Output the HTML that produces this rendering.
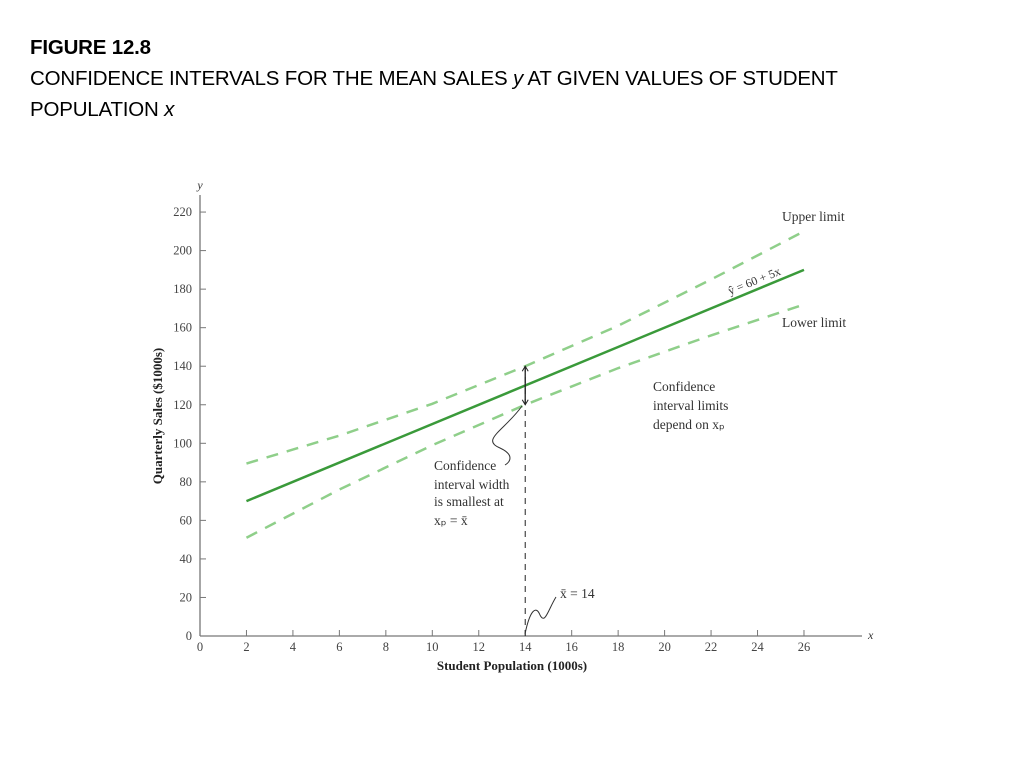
<!DOCTYPE html>
<html><head><meta charset="utf-8"><style>
body{margin:0;width:1024px;height:768px;background:#fff;overflow:hidden;font-family:"Liberation Sans",sans-serif}
#t{position:absolute;left:30px;top:32px;font-size:20.5px;line-height:31px;color:#000;letter-spacing:-0.2px}
svg{position:absolute;left:0;top:0}
</style></head><body>
<div id="t"><b>FIGURE 12.8</b><br>CONFIDENCE INTERVALS FOR THE MEAN SALES <i>y</i> AT GIVEN VALUES OF STUDENT<br>POPULATION <i>x</i></div>
<svg id="c" width="1024" height="768" font-family="Liberation Serif, serif"></svg>
<script>
const xTicks=[0,2,4,6,8,10,12,14,16,18,20,22,24,26];
const yTicks=[0,20,40,60,80,100,120,140,160,180,200,220];
const ciX=[2,6,10,14,18,22,26];
const upperVals=[89.5,104,120.5,140,161,185,210];
const lowerVals=[51,76,99,120,139,156,172];
const intercept=60, slope=5, xbar=14;
const X=v=>200+v*23.23, Y=v=>636-v*1.927;
const s=document.getElementById('c');const NS='http://www.w3.org/2000/svg';
function el(t,a,txt){const e=document.createElementNS(NS,t);for(const k in a)e.setAttribute(k,a[k]);if(txt!=null)e.textContent=txt;s.appendChild(e);return e;}
let e;
e=el('line',{x1:200,y1:636,x2:862,y2:636,stroke:'#777','stroke-width':1.3});


e=el('line',{x1:200,y1:636,x2:200,y2:195,stroke:'#777','stroke-width':1.3});


xTicks.forEach(v=>{el('line',{x1:X(v),y1:636,x2:X(v),y2:630,stroke:'#777'});
e=el('text',{x:X(v),y:651,'font-size':12.5,'text-anchor':'middle',fill:'#444'},v);

});
yTicks.forEach(v=>{el('line',{x1:200,y1:Y(v),x2:206,y2:Y(v),stroke:'#777'});
e=el('text',{x:192,y:Y(v)+4,'font-size':12.5,'text-anchor':'end',fill:'#444'},v);

});
el('text',{x:868,y:639,'font-size':12,'font-style':'italic',fill:'#333'},'x');
el('text',{x:200,y:189,'font-size':12,'font-style':'italic',fill:'#333','text-anchor':'middle'},'y');
e=el('text',{x:512,y:670,'font-size':13,'font-weight':'bold','text-anchor':'middle',fill:'#222'},'Student Population (1000s)');


e=el('text',{x:0,y:0,'font-size':13,'font-weight':'bold','text-anchor':'middle',fill:'#222',transform:'translate(162,416) rotate(-90)'},'Quarterly Sales ($1000s)');


function pl(vals,name){const p=ciX.map((x,i)=>X(x)+','+Y(vals[i])).join(' ');
e=el('polyline',{points:p,fill:'none',stroke:'#8fcf8a','stroke-width':2.5,'stroke-dasharray':'12,9'});

}
pl(upperVals,'upper-limit-line');pl(lowerVals,'lower-limit-line');
e=el('line',{x1:X(2),y1:Y(intercept+slope*2),x2:X(26),y2:Y(intercept+slope*26),stroke:'#3a9a3a','stroke-width':2.5});


el('line',{x1:X(xbar),y1:636,x2:X(xbar),y2:Y(upperVals[3]),stroke:'#222','stroke-dasharray':'6,5'});
el('line',{x1:X(xbar),y1:Y(upperVals[3])+1,x2:X(xbar),y2:Y(lowerVals[3])-1,stroke:'#222','stroke-width':1.3});
el('path',{d:`M${X(xbar)-3},${Y(upperVals[3])+5}L${X(xbar)},${Y(upperVals[3])}L${X(xbar)+3},${Y(upperVals[3])+5}M${X(xbar)-3},${Y(lowerVals[3])-5}L${X(xbar)},${Y(lowerVals[3])}L${X(xbar)+3},${Y(lowerVals[3])-5}`,stroke:'#222',fill:'none'});
el('path',{d:'M522,406 C505,430 480,440 500,448 C515,455 510,462 505,465',stroke:'#333',fill:'none'});
el('path',{d:'M525,634 C530,610 536,605 540,615 C545,625 548,610 556,597',stroke:'#333',fill:'none'});
const T=(x,y,t,n,a)=>{e=el('text',{x:x,y:y,'font-size':13.5,fill:'#333','text-anchor':a||'start'},t);};
T(782,221,'Upper limit','upper-limit-label');T(782,327,'Lower limit','lower-limit-label');
T(653,391,'Confidence','ci-note');T(653,410,'interval limits','ci-note');T(653,429,'depend on x\u209a','ci-note');
T(434,470,'Confidence','width-note');T(434,489,'interval width','width-note');T(434,506,'is smallest at','width-note');T(434,525,'x\u209a = x\u0304','width-note');
T(560,598,'x\u0304 = 14','xbar-label');
e=el('text',{x:0,y:0,'font-size':12,fill:'#333',transform:'translate(730,295) rotate(-22)'},'\u0177 = 60 + 5x');


</script></body></html>
